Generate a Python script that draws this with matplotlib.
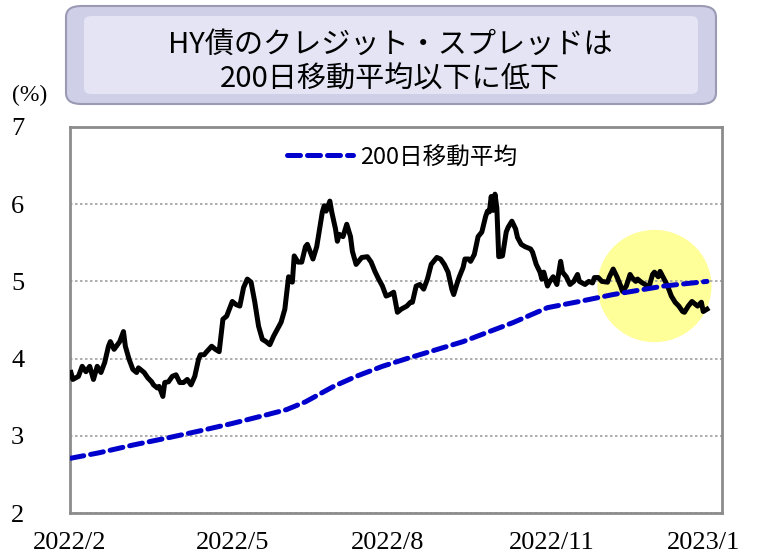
import matplotlib.pyplot as plt
from matplotlib.patches import Ellipse, FancyBboxPatch
from matplotlib.lines import Line2D

# HY spread (%); x = calendar days since 2022/2/1
spread_day = [0, 1, 4, 6, 8, 10, 12, 14, 16, 18, 20, 21, 23, 26, 28, 29, 31, 33, 35, 36,
              39, 41, 43, 44, 46, 47, 49, 50, 52, 54, 56, 58, 60, 62, 64, 66, 68, 69, 71, 72,
              75, 77, 79, 81, 83, 86, 88, 90, 92, 94, 96, 98, 100, 102, 104, 106, 108, 110, 112, 114,
              116, 118, 119, 121, 123, 125, 126, 129, 131, 134, 135, 136, 138, 139, 141, 142, 143, 145, 147, 149,
              150, 152, 155, 158, 160, 162, 164, 166, 168, 170, 172, 173, 174, 176, 179, 181, 182, 184, 186, 188,
              190, 192, 195, 197, 199, 201, 203, 204, 206, 207, 209, 210, 212, 213, 215, 217, 219, 221, 222, 223,
              224, 225, 226, 227, 228, 230, 232, 233, 235, 237, 238, 240, 242, 245, 246, 248, 250, 251, 252, 254,
              255, 257, 259, 261, 262, 264, 266, 268, 270, 271, 274, 276, 278, 279, 281, 283, 286, 287, 289, 291,
              293, 294, 296, 298, 299, 301, 302, 304, 306, 308, 310, 311, 313, 314, 317, 318, 320, 322, 324, 326,
              327, 329, 331, 333, 334, 336, 337, 339]
spread = [3.82, 3.73, 3.77, 3.90, 3.83, 3.90, 3.73, 3.90, 3.82, 3.95, 4.16, 4.22, 4.12, 4.22, 4.35, 4.16, 3.99, 3.86, 3.82, 3.88,
          3.82, 3.75, 3.70, 3.66, 3.62, 3.64, 3.51, 3.69, 3.70, 3.77, 3.79, 3.69, 3.69, 3.73, 3.66, 3.77, 3.99, 4.05, 4.05, 4.08,
          4.16, 4.12, 4.09, 4.51, 4.55, 4.74, 4.70, 4.68, 4.92, 5.03, 4.99, 4.73, 4.42, 4.25, 4.22, 4.18, 4.29, 4.38, 4.47, 4.64,
          5.06, 4.99, 5.33, 5.25, 5.25, 5.45, 5.48, 5.29, 5.45, 5.90, 5.98, 5.91, 6.04, 5.90, 5.68, 5.52, 5.61, 5.58, 5.74, 5.58,
          5.39, 5.22, 5.31, 5.32, 5.25, 5.13, 5.03, 4.94, 4.81, 4.83, 4.86, 4.73, 4.60, 4.64, 4.68, 4.73, 4.73, 4.94, 4.96, 4.90,
          5.03, 5.22, 5.31, 5.29, 5.22, 5.12, 4.90, 4.83, 4.99, 5.06, 5.18, 5.29, 5.29, 5.26, 5.35, 5.58, 5.64, 5.84, 5.91, 5.90,
          6.10, 5.92, 6.13, 5.95, 5.32, 5.33, 5.64, 5.70, 5.78, 5.68, 5.57, 5.48, 5.45, 5.42, 5.38, 5.22, 5.12, 5.03, 5.12, 4.94,
          4.99, 5.06, 4.96, 5.26, 5.12, 5.06, 4.96, 5.00, 5.09, 5.00, 4.96, 5.00, 4.98, 5.05, 5.05, 5.00, 4.99, 5.06, 5.16, 5.06,
          4.94, 4.87, 4.94, 5.09, 5.05, 5.00, 5.03, 4.99, 4.96, 4.92, 5.09, 5.12, 5.06, 5.13, 4.99, 4.94, 4.81, 4.73, 4.68, 4.61,
          4.60, 4.68, 4.74, 4.70, 4.68, 4.73, 4.61, 4.64]

# 200-day moving average
ma_day = [0, 15, 33, 51, 68, 86, 104, 115, 125, 140, 152, 166, 179, 209, 236, 254, 271, 289, 316, 339]
ma200 = [2.71, 2.78, 2.88, 2.97, 3.06, 3.16, 3.27, 3.34, 3.44, 3.64, 3.77, 3.90, 4.00, 4.22, 4.47, 4.66, 4.74, 4.83, 4.94, 5.00]

tick_day = [-0.5, 86, 169, 256, 337]
tick_labels = ['2022/2', '2022/5', '2022/8', '2022/11', '2023/1']

jp = ['Noto Sans CJK JP', 'DejaVu Sans']
serif = ['Liberation Serif', 'DejaVu Serif']

W, H = 757, 554
fig = plt.figure(figsize=(W / 100, H / 100), dpi=100)
ax = fig.add_axes([70 / W, 41 / H, 652 / W, 386 / H])

# highlight circle
ax.add_patch(Ellipse((311, 4.94), 60.8, 1.455, facecolor='#ffff99', edgecolor='none', zorder=0.3))

ax.plot(spread_day, spread, color='black', lw=3.6, solid_joinstyle='round', zorder=3)
ax.plot(ma_day, ma200, color='#0000cc', lw=3.6, dashes=(2.6, 1.4), dash_capstyle='round', zorder=4)

ax.set_xlim(-0.5, 347)
ax.set_ylim(2, 7)
ax.set_yticks([2, 3, 4, 5, 6, 7])
ax.set_xticks(tick_day)
ax.set_xticklabels(tick_labels)
ax.set_axisbelow(True)
ax.yaxis.grid(True, color='#a0a0a0', linestyle=(0, (1.5, 1.5)), lw=1.2)
ax.tick_params(length=0)
ax.tick_params(axis='y', pad=33, labelsize=19)
ax.tick_params(axis='x', pad=14, labelsize=19)
for lab in ax.get_xticklabels() + ax.get_yticklabels():
    lab.set_family(serif)
for sp in ax.spines.values():
    sp.set_color('#8c8c8c')
    sp.set_linewidth(2)

handle = Line2D([], [], color='#0000cc', lw=3.6, dashes=(2.6, 1.4), dash_capstyle='round')
ax.legend([handle], ['200日移動平均'], loc='center', bbox_to_anchor=(0.51, 0.922),
          frameon=False, handlelength=2.8, handletextpad=0.3, prop={'family': jp, 'size': 17})

fig.text(30 / W, 1 - 95 / H, '(%)', family=serif, fontsize=17, ha='center', va='center')

# title box
fig.patches.append(FancyBboxPatch((66 / W, 1 - 104 / H), 650 / W, 98 / H,
                                  boxstyle='round,pad=0,rounding_size=0.02',
                                  transform=fig.transFigure, facecolor='#cfcfe8',
                                  edgecolor='#9a9ab4', lw=1.5))
fig.patches.append(FancyBboxPatch((84 / W, 1 - 94 / H), 614 / W, 78 / H,
                                  boxstyle='round,pad=0,rounding_size=0.01',
                                  transform=fig.transFigure, facecolor='#e4e4f5',
                                  edgecolor='none'))
fig.text(390 / W, 1 - 45 / H, 'HY債のクレジット・スプレッドは', family=jp, fontsize=21,
         ha='center', va='center')
fig.text(390 / W, 1 - 80 / H, '200日移動平均以下に低下', family=jp, fontsize=21,
         ha='center', va='center')

fig.savefig('out.png', dpi=100)
